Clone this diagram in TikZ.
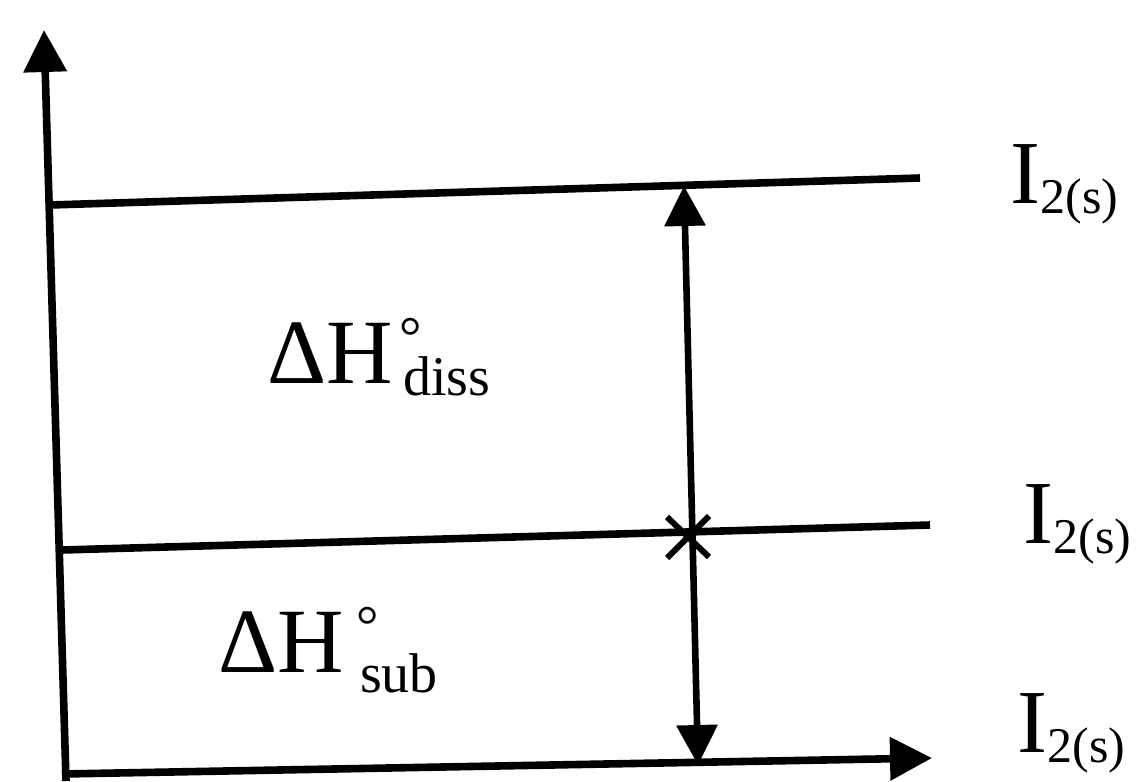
\documentclass[tikz,border=0pt]{standalone}
\usepackage{fontspec}
\setmainfont{Liberation Serif}
\usetikzlibrary{arrows.meta}
\begin{document}
\begin{tikzpicture}[x=0.5pt,y=-0.5pt,
  axis/.style={line width=3.8pt},
  level/.style={line width=3.8pt},
  tipend/.style={-{Triangle[length=21pt,width=21pt]}},
  tipboth/.style={{Triangle[length=20pt,width=20pt]}-{Triangle[length=20pt,width=20pt]}},
  crossmark/.style={line width=3pt},
  lbl/.style={anchor=base west,inner sep=0pt,font=\fontsize{45}{45}\selectfont},
  dhlbl/.style={anchor=base west,inner sep=0pt,font=\fontsize{46}{46}\selectfont}]
\useasboundingbox (0,0) rectangle (1138,781);
% axes
\coordinate (ybot) at (66,781);
\coordinate (ytop) at (44,30);
\coordinate (xleft) at (62,774);
\coordinate (xright) at (932,758);
\draw[axis,tipend] (ybot) -- (ytop);
\draw[axis,tipend] (xleft) -- (xright);
% levels
\coordinate (l1a) at (50,205);
\coordinate (l1b) at (920,178);
\coordinate (l2a) at (62,550);
\coordinate (l2b) at (930,525);
\draw[level] (l1a) -- (l1b);
\draw[level] (l2a) -- (l2b);
% double arrow
\coordinate (atop) at (684,186);
\coordinate (abot) at (698,765);
\draw[axis,line width=3.3pt,tipboth] (abot) -- (atop);
% cross
\coordinate (c1) at (667,517);
\coordinate (c2) at (709,557);
\coordinate (c3) at (667,558);
\coordinate (c4) at (709,516);
\draw[crossmark] (c1) -- (c2);
\draw[crossmark] (c3) -- (c4);
% labels
\node[lbl] (i1) at (1010,203) {I\raisebox{-5pt}{\fontsize{25}{25}\selectfont 2(s)}};
\node[lbl] (i2) at (1023,543) {I\raisebox{-5pt}{\fontsize{25}{25}\selectfont 2(s)}};
\node[lbl] (i3) at (1017,752) {I\raisebox{-5pt}{\fontsize{25}{25}\selectfont 2(s)}};
\node[dhlbl] (dhd) at (267,383) {ΔH\rlap{\hspace{3pt}\raisebox{14pt}{\fontsize{28}{28}\selectfont °}}\hspace{5pt}\raisebox{-6pt}{\fontsize{28}{28}\selectfont diss}};
\node[dhlbl] (dhs) at (218,672) {ΔH\rlap{\hspace{6pt}\raisebox{14pt}{\fontsize{28}{28}\selectfont °}}\hspace{8pt}\raisebox{-10pt}{\fontsize{28}{28}\selectfont sub}};
\end{tikzpicture}
\end{document}
